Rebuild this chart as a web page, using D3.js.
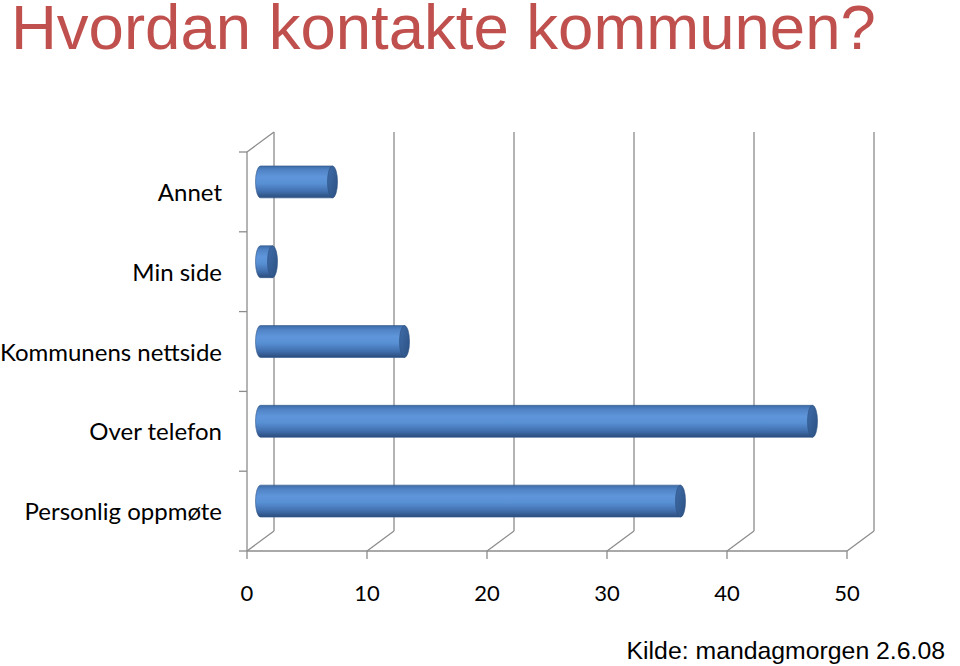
<!DOCTYPE html>
<html>
<head>
<meta charset="utf-8">
<script src="https://cdn.jsdelivr.net/npm/d3@7"></script>
<style>
  body { margin: 0; background: #fff; }
  svg { display: block; }
</style>
</head>
<body>
<div id="chart"></div>
<script>
'use strict';

// Data (percent), top to bottom as drawn
var categories = ['Annet', 'Min side', 'Kommunens nettside', 'Over telefon', 'Personlig oppmøte'];
var values     = [6, 1, 12, 46, 35];
var tickValues = [0, 10, 20, 30, 40, 50];

var width  = 960,
    height = 666,
    depthX = 27,   // 3D wall depth offset
    depthY = -20,
    gridColor = '#8c8c8c';

var svg = d3.select('#chart').append('svg')
    .attr('width', width)
    .attr('height', height);

var defs = svg.append('defs');

// Cylinder body shading
var bodyGrad = defs.append('linearGradient')
    .attr('id', 'cylBody')
    .attr('x1', 0).attr('y1', 0).attr('x2', 0).attr('y2', 1);
[
    [0, '#3c6aa6'], [0.12, '#4f82c4'], [0.35, '#5f96db'],
    [0.55, '#5890d4'], [0.8, '#416fae'], [1, '#2b4d7c']
].forEach(function (s) {
    bodyGrad.append('stop').attr('offset', s[0]).attr('stop-color', s[1]);
});

var capGrad = defs.append('linearGradient')
    .attr('id', 'cylCap')
    .attr('x1', 0).attr('y1', 0).attr('x2', 1).attr('y2', 1);
capGrad.append('stop').attr('offset', 0).attr('stop-color', '#3f6ca8');
capGrad.append('stop').attr('offset', 1).attr('stop-color', '#2c5183');

// Title (slightly clipped at the top, as in the original slide)
svg.append('text')
    .attr('x', 11)
    .attr('y', 49)
    .style('font-family', '"Liberation Sans", Arial, sans-serif')
    .style('font-size', '63.5px')
    .style('fill', '#c0504d')
    .text('Hvordan kontakte kommunen?');

// Source
svg.append('text')
    .attr('x', 945)
    .attr('y', 659)
    .attr('text-anchor', 'end')
    .style('font-family', '"Liberation Sans", Arial, sans-serif')
    .style('font-size', '24.8px')
    .style('fill', '#000')
    .text('Kilde: mandagmorgen 2.6.08');

// Scales (front plane)
var x = d3.scaleLinear()
    .domain([0, 50])
    .range([247, 847]);

var y = d3.scaleBand()
    .domain(categories)
    .range([152, 551]);

var yTop = y.range()[0],
    yBottom = y.range()[1];

var grid = svg.append('g').attr('class', 'grid')
    .attr('stroke', gridColor)
    .attr('stroke-width', 1.3)
    .attr('fill', 'none');

// Back wall vertical gridlines
grid.selectAll('.back')
    .data(tickValues)
    .enter().append('line')
    .attr('x1', function (d) { return x(d) + depthX; })
    .attr('x2', function (d) { return x(d) + depthX; })
    .attr('y1', yTop + depthY)
    .attr('y2', yBottom + depthY);

// Floor diagonals
grid.selectAll('.floor')
    .data(tickValues)
    .enter().append('line')
    .attr('x1', function (d) { return x(d); })
    .attr('x2', function (d) { return x(d) + depthX; })
    .attr('y1', yBottom)
    .attr('y2', yBottom + depthY);

// Front floor edge + left wall front edge + top diagonal
grid.append('line')
    .attr('x1', x(0)).attr('x2', x(50))
    .attr('y1', yBottom).attr('y2', yBottom);
grid.append('line')
    .attr('x1', x(0)).attr('x2', x(0))
    .attr('y1', yTop).attr('y2', yBottom);
grid.append('line')
    .attr('x1', x(0)).attr('x2', x(0) + depthX)
    .attr('y1', yTop).attr('y2', yTop + depthY);

// Left axis ticks (band boundaries)
var bounds = categories.map(function (c) { return y(c); }).concat([yBottom]);
grid.selectAll('.ytick')
    .data(bounds)
    .enter().append('line')
    .attr('x1', x(0) - 8).attr('x2', x(0))
    .attr('y1', function (d) { return d; })
    .attr('y2', function (d) { return d; });

// Bottom axis ticks
grid.selectAll('.xtick')
    .data(tickValues)
    .enter().append('line')
    .attr('x1', function (d) { return x(d); })
    .attr('x2', function (d) { return x(d); })
    .attr('y1', yBottom)
    .attr('y2', yBottom + 8);

// Tick labels
svg.selectAll('.xlabel')
    .data(tickValues)
    .enter().append('text')
    .attr('x', function (d) { return x(d); })
    .attr('y', 601)
    .attr('text-anchor', 'middle')
    .style('font-family', 'Lato, "Open Sans", sans-serif')
    .style('font-size', '22px')
    .style('fill', '#000')
    .text(function (d) { return d; });

svg.selectAll('.ylabel')
    .data(categories)
    .enter().append('text')
    .attr('x', 222)
    .attr('y', function (d) { return y(d) + y.bandwidth() / 2 + 9; })
    .attr('text-anchor', 'end')
    .style('font-family', 'Lato, "Open Sans", sans-serif')
    .style('font-size', '24px')
    .style('fill', '#000')
    .text(function (d) { return d; });

// Cylinders, drawn at half depth
var r = y.bandwidth() * 0.2,   // half bar height
    capRx = 5,
    offX = depthX / 2,
    offY = depthY / 2;

var bars = svg.selectAll('.bar')
    .data(categories.map(function (c, i) { return {name: c, value: values[i]}; }))
    .enter().append('g')
    .attr('class', 'bar')
    .attr('transform', function (d) {
        return 'translate(' + offX + ',' + (y(d.name) + y.bandwidth() / 2 + offY) + ')';
    });

// body: left half-ellipse + rect to right cap centre
bars.append('path')
    .attr('d', function (d) {
        var x0 = x(0), x1 = x(d.value);
        return 'M' + x0 + ',' + (-r) +
            'L' + x1 + ',' + (-r) +
            'L' + x1 + ',' + r +
            'L' + x0 + ',' + r +
            'A' + capRx + ',' + r + ' 0 0 1 ' + x0 + ',' + (-r) + 'Z';
    })
    .attr('fill', 'url(#cylBody)')
    .attr('stroke', '#2f568a')
    .attr('stroke-width', 0.6);

bars.append('ellipse')
    .attr('cx', function (d) { return x(d.value); })
    .attr('cy', 0)
    .attr('rx', capRx)
    .attr('ry', r)
    .attr('fill', 'url(#cylCap)')
    .attr('stroke', '#2b4f80')
    .attr('stroke-width', 0.6);
</script>
</body>
</html>
